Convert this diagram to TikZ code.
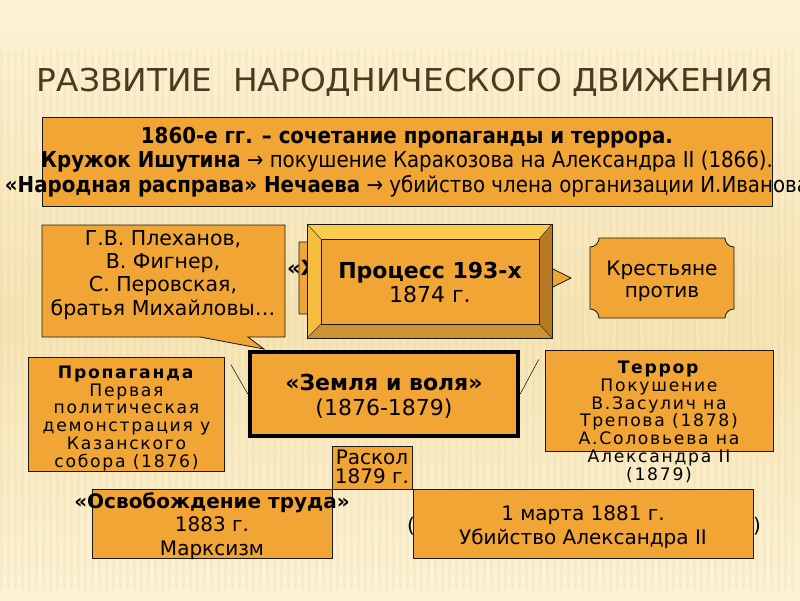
\documentclass[tikz,border=0pt]{standalone}
\usepackage{graphicx}
\usepackage{fontspec}
\setmainfont{DejaVu Sans}
\newfontfamily\condfont{DejaVu Sans Condensed}
\newfontfamily\spacedfont[LetterSpace=10]{DejaVu Sans}
\definecolor{bgtop}{HTML}{FCF3D6}
\definecolor{bgmid}{HTML}{F5E4B4}
\definecolor{stripe}{HTML}{E6CC90}
\definecolor{orbox}{HTML}{F0A535}
\definecolor{titlec}{HTML}{4A3A1F}
\definecolor{bevtop}{HTML}{F9CC4A}
\definecolor{bevleft}{HTML}{F6BE3E}
\definecolor{bevright}{HTML}{B77A20}
\definecolor{bevbot}{HTML}{CF9230}
\tikzset{
  frame/.style={draw=black!90, line width=0.8pt, fill=orbox, inner sep=0pt},
  txt/.style={align=center, text=black, inner sep=0pt},
  big/.style={font=\fontsize{20.5}{23.3}\selectfont},
  tight/.style={font=\spacedfont\fontsize{17.2}{17.7}\selectfont},
  link/.style={draw=black, line width=0.5pt},
}
\begin{document}
\begin{tikzpicture}[x=1pt,y=-1pt]
\useasboundingbox (0,0) rectangle (800,600);
% background
\fill[top color=bgtop, bottom color=bgmid] (0,0) rectangle (800,320);
\fill[top color=bgmid, bottom color=bgtop] (0,320) rectangle (800,600);
\foreach \i in {0,7,...,796} \fill[stripe, opacity=0.16] (\i,50) rectangle ++(3,540);
% title
\node[anchor=base, text=titlec, inner sep=0pt] (title) at (405,91)
  {\resizebox{736pt}{\height}{\condfont\fontsize{31.5}{32}\selectfont РАЗВИТИЕ\ \ НАРОДНИЧЕСКОГО ДВИЖЕНИЯ}};
% top box
\node[frame, minimum width=730pt, minimum height=89pt] (topbox) at (407,161.5) {};
\node[txt, anchor=base, font=\condfont\fontsize{22}{24.5}\selectfont] (toptext) at (407,192)
  {\textbf{1860-е гг. – сочетание пропаганды и террора.}\\
   \textbf{Кружок Ишутина} → покушение Каракозова на Александра II (1866).\\
   \textbf{«Народная расправа» Нечаева} → убийство члена организации И.Иванова};
% callout
\draw[frame] (42,225) -- (285,225) -- (285,337) -- (248,337) -- (264,349) -- (200,337) -- (42,337) -- cycle;
\node[txt, big, anchor=base] (names) at (163,315)
  {Г.В. Плеханов,\\В. Фигнер,\\С. Перовская,\\братья Михайловы…};
% hidden arrow behind the bevel
\draw[frame] (299,242) -- (549,242) -- (549,267) -- (571,278) -- (549,289) -- (549,314) -- (299,314) -- cycle;
\node[txt, anchor=base west, font=\bfseries\fontsize{21}{23}\selectfont] (hozh) at (287,275) {«Х};
% bevel
\fill[bevtop] (307,224) -- (552,224) -- (539,239) -- (321,239) -- cycle;
\fill[bevleft] (307,224) -- (321,239) -- (321,324) -- (307,338) -- cycle;
\fill[bevright] (552,224) -- (552,338) -- (539,324) -- (539,239) -- cycle;
\fill[bevbot] (307,338) -- (552,338) -- (539,324) -- (321,324) -- cycle;
\node[frame, line width=0.6pt, minimum width=218pt, minimum height=85pt] (proc) at (430,281.5) {};
\node[draw=black!90, line width=0.6pt, minimum width=245pt, minimum height=114pt, inner sep=0pt] (procouter) at (429.5,281) {};
\draw[line width=0.5pt, black!80] (procouter.north west) -- (proc.north west) (procouter.north east) -- (proc.north east)
  (procouter.south east) -- (proc.south east) (procouter.south west) -- (proc.south west);
\node[txt, anchor=base, font=\fontsize{22}{24}\selectfont] (proctext) at (430,302) {\textbf{Процесс 193-х}\\1874 г.};
% plaque
\draw[frame] (599,238) -- (725,238) .. controls (725,243) and (729,247) .. (734,247) -- (734,309)
  .. controls (729,309) and (725,313) .. (725,318) -- (599,318) .. controls (599,313) and (595,309) .. (590,309)
  -- (590,247) .. controls (595,247) and (599,243) .. (599,238) -- cycle;
\node[txt, anchor=base, font=\fontsize{20}{22}\selectfont] (kr) at (662,297) {Крестьяне\\против};
% propaganda
\node[frame, minimum width=196pt, minimum height=114pt] (prop) at (126.5,414) {};
\node[txt, tight, anchor=base] (propt) at (126.5,467)
  {\textbf{Пропаганда}\\Первая\\политическая\\демонстрация у\\Казанского\\собора (1876)};
% terror
\node[frame, minimum width=228pt, minimum height=101pt] (terror) at (659,400.5) {};
\node[txt, tight, anchor=base] (tert) at (659,480)
  {\textbf{Террор}\\Покушение\\В.Засулич на\\Трепова (1878)\\А.Соловьева на\\Александра II\\(1879)};
% zemlya i volya
\node[draw=black, line width=4.5pt, fill=orbox, minimum width=268pt, minimum height=84pt, inner sep=0pt] (zemlya) at (384,394) {};
\node[txt, anchor=base, font=\fontsize{22}{25}\selectfont] (zt) at (384,415) {\textbf{«Земля и воля»}\\(1876-1879)};
\draw[link] ([shift={(6,8)}]prop.north east) -- (zemlya.west);
\draw[link] (zemlya.east) -- ([shift={(-6,10)}]terror.north west);
% osvobozhdenie truda
\node[frame, minimum width=240pt, minimum height=69pt] (osv) at (212,523.5) {};
\node[txt, anchor=base, font=\fontsize{20}{23.5}\selectfont] (osvt) at (212,555)
  {\textbf{«Освобождение труда»}\\1883 г.\\Марксизм};
% raskol
\node[frame, minimum width=80pt, minimum height=43pt] (raskol) at (372,467.5) {};
\node[txt, anchor=base, font=\fontsize{20}{18.5}\selectfont] (rt) at (372,483) {Раскол\\1879 г.};
% 1 marta
\node[txt, anchor=base west, font=\fontsize{20}{24}\selectfont] (lp) at (407,532) {(};
\node[txt, anchor=base east, font=\fontsize{20}{24}\selectfont] (rp) at (761,532) {)};
\node[frame, minimum width=340pt, minimum height=69pt] (mart) at (583,523.5) {};
\node[txt, anchor=base, font=\fontsize{20}{24}\selectfont] (martt) at (583,544) {1 марта 1881 г.\\Убийство Александра II};
\end{tikzpicture}
\end{document}
